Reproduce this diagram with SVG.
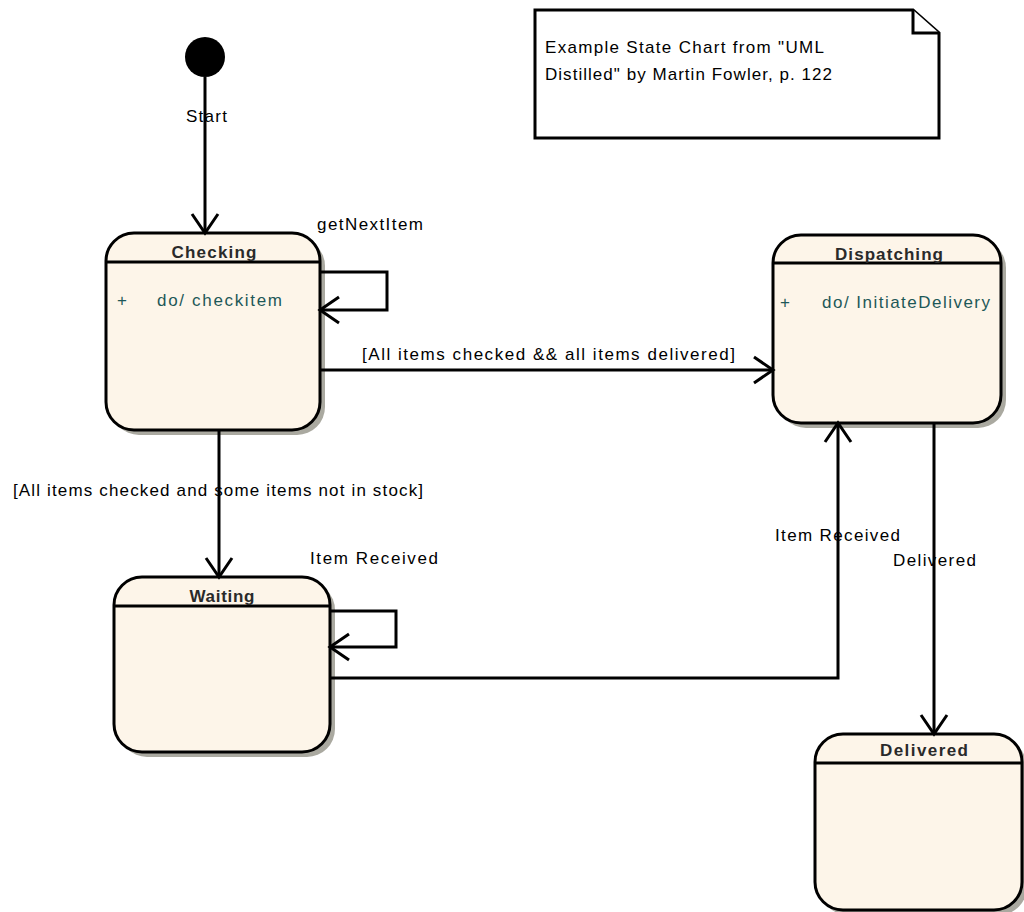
<svg xmlns="http://www.w3.org/2000/svg" width="1024" height="912" viewBox="0 0 1024 912">
<style>
.box{fill:#fdf5e9;stroke:#000;stroke-width:3}
.shadow{fill:#aaa9a0}
.hdr{stroke:#000;stroke-width:3;fill:none}
.title{font-family:"Liberation Sans",Arial,sans-serif;font-size:17px;font-weight:bold;fill:#2a2a2a;text-anchor:middle}
.act{font-family:"Liberation Sans",Arial,sans-serif;font-size:17px;fill:#1d5858}
.lbl{font-family:"Liberation Sans",Arial,sans-serif;font-size:17px;fill:#000}
.edge{fill:none;stroke:#000;stroke-width:3}
.note{fill:#fff;stroke:#000;stroke-width:3;stroke-linejoin:miter}
</style>
<defs>
<marker id="arr" markerUnits="userSpaceOnUse" viewBox="0 0 22 30" refX="20" refY="15" markerWidth="22" markerHeight="30" orient="auto" overflow="visible">
<path d="M1,2 L20,15 L1,28" fill="none" stroke="#000" stroke-width="3"/>
</marker>
</defs>
<rect width="1024" height="912" fill="#fff"/>

<g id="note">
<path class="note" d="M535,10 H913 L939,33 V138 H535 Z"/>
<path class="note" d="M913,10 V33 H939" fill="none"/>
<text class="lbl" x="545" y="53" textLength="279" lengthAdjust="spacing">Example State Chart from "UML</text>
<text class="lbl" x="545" y="80" textLength="287" lengthAdjust="spacing">Distilled" by Martin Fowler, p. 122</text>
</g>

<g id="start">
<circle cx="205" cy="57" r="20" fill="#000"/>
</g>

<g id="checking">
<rect class="shadow" x="111" y="238" width="214" height="197" rx="28"/>
<rect class="box" x="106" y="233" width="214" height="197" rx="28"/>
<line class="hdr" x1="106" y1="262" x2="320" y2="262"/>
<text class="title" x="214" y="258" textLength="85" lengthAdjust="spacing">Checking</text>
<text class="act" x="117" y="306">+</text>
<text class="act" x="157" y="306" textLength="125" lengthAdjust="spacing">do/ checkitem</text>
</g>

<g id="dispatching">
<rect class="shadow" x="778" y="240" width="228" height="188" rx="28"/>
<rect class="box" x="773" y="235" width="228" height="188" rx="28"/>
<line class="hdr" x1="773" y1="263" x2="1001" y2="263"/>
<text class="title" x="889" y="260" textLength="108" lengthAdjust="spacing">Dispatching</text>
<text class="act" x="780" y="308">+</text>
<text class="act" x="822" y="308" textLength="168" lengthAdjust="spacing">do/ InitiateDelivery</text>
</g>

<g id="waiting">
<rect class="shadow" x="119" y="582" width="216" height="175" rx="28"/>
<rect class="box" x="114" y="577" width="216" height="175" rx="28"/>
<line class="hdr" x1="114" y1="606" x2="330" y2="606"/>
<text class="title" x="222" y="602" textLength="65" lengthAdjust="spacing">Waiting</text>
</g>

<g id="delivered">
<rect class="shadow" x="820" y="739" width="207" height="176" rx="28"/>
<rect class="box" x="815" y="734" width="207" height="176" rx="28"/>
<line class="hdr" x1="815" y1="763" x2="1022" y2="763"/>
<text class="title" x="924" y="756" textLength="88" lengthAdjust="spacing">Delivered</text>
</g>

<g id="connectors">
<path class="edge" d="M205,77 V233" marker-end="url(#arr)"/>
<path class="edge" d="M320,272 H387 V310 H320" marker-end="url(#arr)"/>
<path class="edge" d="M320,370 H773" marker-end="url(#arr)"/>
<path class="edge" d="M219,430 V577" marker-end="url(#arr)"/>
<path class="edge" d="M330,611 H396 V647 H330" marker-end="url(#arr)"/>
<path class="edge" d="M330,678 H838 V423" marker-end="url(#arr)"/>
<path class="edge" d="M934,423 V734" marker-end="url(#arr)"/>
</g>

<g id="labels">
<text class="lbl" x="186" y="122" textLength="41" lengthAdjust="spacing">Start</text>
<text class="lbl" x="317" y="230" textLength="106" lengthAdjust="spacing">getNextItem</text>
<text class="lbl" x="362" y="360" textLength="373" lengthAdjust="spacing">[All items checked &amp;&amp; all items delivered]</text>
<text class="lbl" x="13" y="496" textLength="410" lengthAdjust="spacing">[All items checked and some items not in stock]</text>
<text class="lbl" x="310" y="564" textLength="128" lengthAdjust="spacing">Item Received</text>
<text class="lbl" x="775" y="541" textLength="125" lengthAdjust="spacing">Item Received</text>
<text class="lbl" x="893" y="566" textLength="83" lengthAdjust="spacing">Delivered</text>
</g>
</svg>
